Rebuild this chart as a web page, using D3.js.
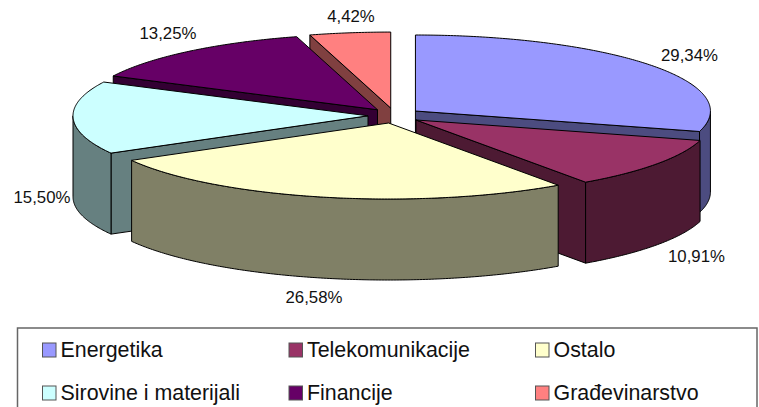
<!DOCTYPE html>
<html>
<head>
<meta charset="utf-8">
<script src="https://cdn.jsdelivr.net/npm/d3@7"></script>
<style>
  html, body { margin: 0; padding: 0; background: #fff; }
  svg { display: block; }
  text { font-family: "Liberation Sans", Arial, sans-serif; fill: #111; }
</style>
</head>
<body>
<svg id="chart"></svg>
<script>
const categories = ["Energetika", "Telekomunikacije", "Ostalo", "Sirovine i materijali", "Financije", "Građevinarstvo"];
const shares = [29.34, 10.91, 26.58, 15.50, 13.25, 4.42];
const topColors = ["#9999ff", "#993366", "#ffffcc", "#ccffff", "#660066", "#ff8080"];
const sideColors = ["#4c4c80", "#4d1a33", "#808066", "#668080", "#330033", "#804040"];
// painter's order, back slices first
const drawOrder = ["Građevinarstvo", "Financije", "Energetika", "Telekomunikacije", "Sirovine i materijali", "Ostalo"];
// label centres, same order as categories
const labelX = [689.5, 696.5, 314, 42, 168, 351];
const labelY = [55, 256, 297, 197, 33, 16];

const width = 759, height = 407;
const centerX = 394.4, centerY = 115.6;
const radiusX = 295, radiusY = 76, depth = 81;
const explodeX = 26.4, explodeY = 7.6;

const svg = d3.select("#chart").attr("width", width).attr("height", height);
const pieLayer = svg.append("g");

const slices = d3.pie().sort(null).value((d) => d)(shares);
const line = d3.line();
const format = d3.formatLocale({ decimal: ",", thousands: ".", grouping: [3], currency: ["", ""] }).format(".2f");

// point on the rim of a slice, a is clockwise from 12 o'clock
function rim(slice, a, drop) {
  return [slice.cx + radiusX * Math.sin(a), slice.cy - radiusY * Math.cos(a) + drop];
}

function arcPoints(slice, a0, a1, drop) {
  const n = Math.max(2, Math.ceil((a1 - a0) / 0.01));
  return d3.range(n + 1).map((i) => rim(slice, a0 + ((a1 - a0) * i) / n, drop));
}

function cutFace(slice, a) {
  return line([
    rim(slice, a, 0),
    [slice.cx, slice.cy],
    [slice.cx, slice.cy + depth],
    rim(slice, a, depth),
  ]) + "Z";
}

function addShape(d, fill) {
  pieLayer.append("path")
    .attr("d", d)
    .attr("fill", fill)
    .attr("stroke", "#000")
    .attr("stroke-width", 1)
    .attr("stroke-linejoin", "round");
}

slices.forEach((s) => {
  const mid = (s.startAngle + s.endAngle) / 2;
  s.cx = centerX + explodeX * Math.sin(mid); // each slice is pulled out along its own middle
  s.cy = centerY - explodeY * Math.cos(mid);
});

drawOrder.forEach((name) => {
  const i = categories.indexOf(name);
  const s = slices[i];
  const side = sideColors[i];

  // a cut face only shows when the slice body sits above it on screen
  if (s.startAngle > Math.PI) addShape(cutFace(s, s.startAngle), side);
  if (s.endAngle < Math.PI) addShape(cutFace(s, s.endAngle), side);

  // outer wall, only the front half of the ellipse
  const w0 = Math.max(s.startAngle, Math.PI / 2);
  const w1 = Math.min(s.endAngle, (3 * Math.PI) / 2);
  if (w1 > w0) {
    const wall = arcPoints(s, w0, w1, 0).concat(arcPoints(s, w0, w1, depth).reverse());
    addShape(line(wall) + "Z", side);
  }

  const top = [[s.cx, s.cy]].concat(arcPoints(s, s.startAngle, s.endAngle, 0));
  addShape(line(top) + "Z", topColors[i]);
});

// value labels
svg.append("g").selectAll("text")
  .data(shares)
  .join("text")
  .attr("x", (d, i) => labelX[i])
  .attr("y", (d, i) => labelY[i])
  .attr("text-anchor", "middle")
  .attr("dominant-baseline", "central")
  .attr("font-size", 16.8)
  .text((d) => format(d) + "%");

// legend
svg.append("rect")
  .attr("x", 17.5).attr("y", 328)
  .attr("width", 739.5).attr("height", 90)
  .attr("fill", "#fff")
  .attr("stroke", "#666")
  .attr("stroke-width", 1.5);

const legendX = d3.scaleLinear().domain([0, 2]).range([42, 535]);
const legendY = d3.scaleLinear().domain([0, 1]).range([350, 393]);

const legendItems = svg.append("g").selectAll("g")
  .data(categories)
  .join("g")
  .attr("transform", (d, i) => `translate(${legendX(i % 3)},${legendY(Math.floor(i / 3))})`);

legendItems.append("rect")
  .attr("x", 0.5).attr("y", -7)
  .attr("width", 13.5).attr("height", 14)
  .attr("fill", (d, i) => topColors[i])
  .attr("stroke", "#555")
  .attr("stroke-width", 1);

legendItems.append("text")
  .attr("x", 18.5)
  .attr("dominant-baseline", "central")
  .attr("font-size", 21.4)
  .text((d) => d);
</script>
</body>
</html>
